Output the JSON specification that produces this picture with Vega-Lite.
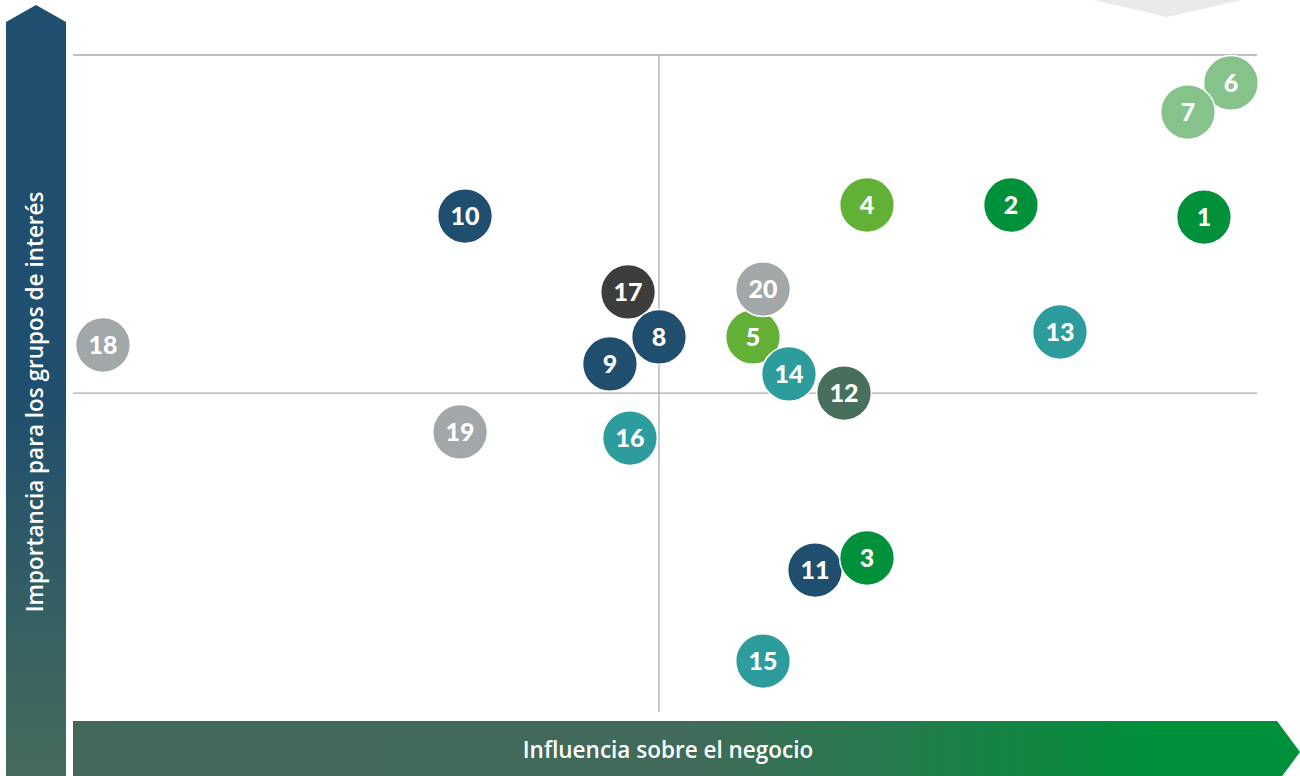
{
  "$schema": "https://vega.github.io/schema/vega-lite/v6.json",
  "width": 1184,
  "height": 657,
  "padding": {"left": 73, "top": 55, "right": 43, "bottom": 64},
  "autosize": {"type": "none"},
  "background": "white",
  "config": {"view": {"stroke": null}},
  "datasets": {
    "topshape": [
      {"x": 86.15, "y": 108.37, "y2": 108.37},
      {"x": 92.4, "y": 108.37, "y2": 105.78},
      {"x": 98.73, "y": 108.37, "y2": 108.37}
    ],
    "varrow": [
      {"y": -9.74, "x": -5.66, "x2": -0.59},
      {"y": 105.02, "x": -5.66, "x2": -0.59},
      {"y": 107.61, "x": -3.125, "x2": -3.125}
    ],
    "harrow": [
      {"x": 0, "y": -1.37, "y2": -10.81},
      {"x": 101.69, "y": -1.37, "y2": -10.81},
      {"x": 103.63, "y": -6.09, "y2": -6.09}
    ],
    "lines": [
      {"x": 0, "x2": 100, "y": 100, "y2": 100},
      {"x": 0, "x2": 100, "y": 48.55, "y2": 48.55},
      {"x": 49.49, "x2": 49.49, "y": 0, "y2": 100}
    ],
    "labels": [
      {"label": "Importancia para los grupos de interés", "x": -3.125, "y": 47.2, "angle": 270},
      {"label": "Influencia sobre el negocio", "x": 50.25, "y": -5.9, "angle": 0}
    ],
    "topics": [
      {"id": "1", "x": 95.52, "y": 75.34, "group": "A"},
      {"id": "2", "x": 79.22, "y": 77.17, "group": "A"},
      {"id": "4", "x": 67.06, "y": 77.17, "group": "B"},
      {"id": "5", "x": 57.43, "y": 57.08, "group": "B"},
      {"id": "6", "x": 97.8, "y": 95.74, "group": "C"},
      {"id": "7", "x": 94.17, "y": 91.32, "group": "C"},
      {"id": "10", "x": 33.11, "y": 75.49, "group": "D"},
      {"id": "11", "x": 62.67, "y": 21.61, "group": "D"},
      {"id": "3", "x": 67.06, "y": 23.44, "group": "A"},
      {"id": "12", "x": 65.12, "y": 48.55, "group": "E"},
      {"id": "13", "x": 83.36, "y": 57.84, "group": "F"},
      {"id": "20", "x": 58.28, "y": 64.38, "group": "H"},
      {"id": "14", "x": 60.47, "y": 51.45, "group": "F"},
      {"id": "15", "x": 58.28, "y": 7.76, "group": "F"},
      {"id": "16", "x": 47.04, "y": 41.7, "group": "F"},
      {"id": "17", "x": 46.88, "y": 63.93, "group": "G"},
      {"id": "8", "x": 49.49, "y": 57.08, "group": "D"},
      {"id": "9", "x": 45.35, "y": 52.97, "group": "D"},
      {"id": "18", "x": 2.53, "y": 55.86, "group": "H"},
      {"id": "19", "x": 32.69, "y": 42.62, "group": "H"}
    ]
  },
  "layer": [
    {
      "data": {"name": "topshape"},
      "mark": {"type": "area", "color": "#E9EAEC", "orient": "vertical"},
      "encoding": {
        "x": {"field": "x", "type": "quantitative", "scale": {"domain": [0, 100], "nice": false, "zero": false}, "axis": null},
        "y": {"field": "y", "type": "quantitative", "scale": {"domain": [0, 100], "nice": false, "zero": false}, "axis": null},
        "y2": {"field": "y2"}
      }
    },
    {
      "data": {"name": "varrow"},
      "mark": {
        "type": "area",
        "orient": "horizontal",
        "color": {
          "gradient": "linear", "x1": 0, "y1": 0, "x2": 0, "y2": 1,
          "stops": [
            {"offset": 0, "color": "#1F4E6E"},
            {"offset": 0.5, "color": "#1F4E6E"},
            {"offset": 1, "color": "#466C5C"}
          ]
        }
      },
      "encoding": {
        "y": {"field": "y", "type": "quantitative"},
        "x": {"field": "x", "type": "quantitative"},
        "x2": {"field": "x2"}
      }
    },
    {
      "data": {"name": "harrow"},
      "mark": {
        "type": "area",
        "orient": "vertical",
        "color": {
          "gradient": "linear", "x1": 0, "y1": 0, "x2": 1, "y2": 0,
          "stops": [
            {"offset": 0, "color": "#456A5C"},
            {"offset": 0.5, "color": "#416A5A"},
            {"offset": 0.88, "color": "#008F3B"},
            {"offset": 1, "color": "#008F3B"}
          ]
        }
      },
      "encoding": {
        "x": {"field": "x", "type": "quantitative"},
        "y": {"field": "y", "type": "quantitative"},
        "y2": {"field": "y2"}
      }
    },
    {
      "data": {"name": "lines"},
      "mark": {"type": "rule", "color": "#ABABAB", "strokeWidth": 1.3},
      "encoding": {
        "x": {"field": "x", "type": "quantitative"},
        "x2": {"field": "x2"},
        "y": {"field": "y", "type": "quantitative"},
        "y2": {"field": "y2"}
      }
    },
    {
      "data": {"name": "labels"},
      "mark": {"type": "text", "font": "Open Sans", "fontWeight": 600, "fontSize": 22.5, "color": "white", "align": "center", "baseline": "middle"},
      "encoding": {
        "x": {"field": "x", "type": "quantitative"},
        "y": {"field": "y", "type": "quantitative"},
        "text": {"field": "label"},
        "angle": {"field": "angle", "type": "quantitative", "scale": null}
      }
    },
    {
      "data": {"name": "topics"},
      "mark": {"type": "point", "shape": "circle", "filled": true, "size": 3000, "opacity": 1, "stroke": "white", "strokeWidth": 1.5},
      "encoding": {
        "x": {"field": "x", "type": "quantitative"},
        "y": {"field": "y", "type": "quantitative"},
        "color": {
          "field": "group", "type": "nominal", "legend": null,
          "scale": {
            "domain": ["A", "B", "C", "D", "E", "F", "G", "H"],
            "range": ["#00913A", "#62B036", "#86C38B", "#1F4E6E", "#476F5C", "#2C9C9C", "#3D3D3B", "#A2A7AA"]
          }
        }
      }
    },
    {
      "data": {"name": "topics"},
      "mark": {"type": "text", "font": "Lato", "fontWeight": 900, "fontSize": 25, "color": "white", "align": "center", "baseline": "middle", "dy": 1},
      "encoding": {
        "x": {"field": "x", "type": "quantitative"},
        "y": {"field": "y", "type": "quantitative"},
        "text": {"field": "id"}
      }
    }
  ]
}
